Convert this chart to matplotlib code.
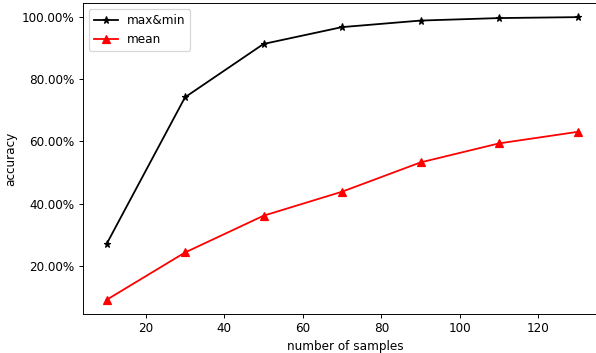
import matplotlib
matplotlib.use("Agg")
import matplotlib.pyplot as plt
from matplotlib.ticker import PercentFormatter

samples = [10, 30, 50, 70, 90, 110, 130]
acc_maxmin = [0.270, 0.741, 0.912, 0.966, 0.987, 0.995, 0.998]
acc_mean = [0.091, 0.243, 0.361, 0.438, 0.532, 0.593, 0.630]

DPI = 86
fig = plt.figure(figsize=(596 / DPI, 353 / DPI), dpi=DPI)
ax = fig.add_axes([83 / 596, 39 / 353, 524 / 596, 311 / 353])

ax.plot(samples, acc_maxmin, color="k", marker="*", label="max&min")
ax.plot(samples, acc_mean, color="r", marker="^", label="mean")

ax.set_xlim(4, 137.5)
ax.spines["right"].set_visible(False)  # right edge is cropped away in the original
ax.yaxis.set_major_formatter(PercentFormatter(xmax=1, decimals=2))
ax.set_yticks([0.2, 0.4, 0.6, 0.8, 1.0])
ax.set_xlabel("number of samples")
ax.set_ylabel("accuracy")
ax.legend(loc="upper left")

fig.savefig("out.png", dpi=DPI)
